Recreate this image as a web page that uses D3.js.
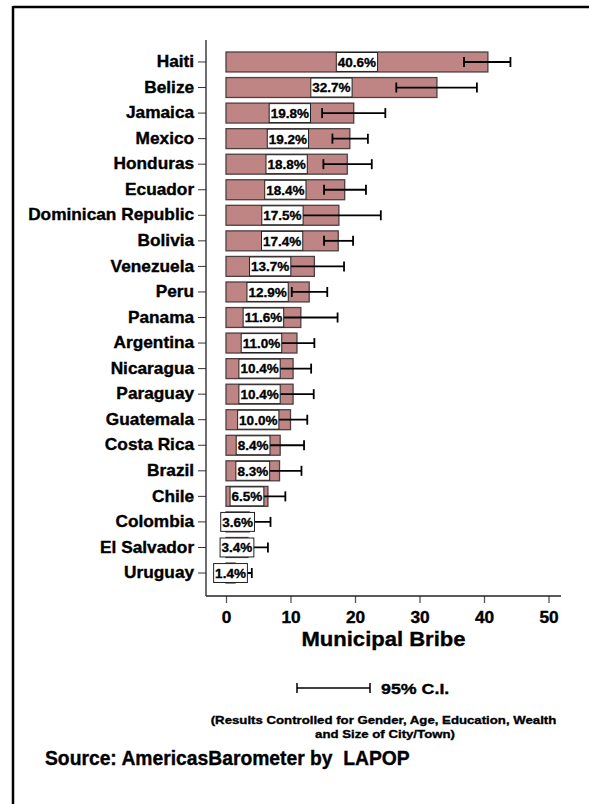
<!DOCTYPE html>
<html>
<head>
<meta charset="utf-8">
<script src="https://cdn.jsdelivr.net/npm/d3@7/dist/d3.min.js"></script>
<style>
  html, body { margin: 0; padding: 0; background: #fff; }
  svg { display: block; font-family: "Liberation Sans", Arial, Helvetica, sans-serif; font-weight: bold; }
  .heavy { stroke: #000; stroke-width: 0.35; }
</style>
</head>
<body>
<svg id="chart" width="589" height="804"></svg>
<script>
// Share of respondents asked for a bribe by municipal officials (%)
const countries = ["Haiti", "Belize", "Jamaica", "Mexico", "Honduras", "Ecuador",
  "Dominican Republic", "Bolivia", "Venezuela", "Peru", "Panama", "Argentina",
  "Nicaragua", "Paraguay", "Guatemala", "Costa Rica", "Brazil", "Chile",
  "Colombia", "El Salvador", "Uruguay"];
const values = [40.6, 32.7, 19.8, 19.2, 18.8, 18.4, 17.5, 17.4, 13.7, 12.9, 11.6,
  11.0, 10.4, 10.4, 10.0, 8.4, 8.3, 6.5, 3.6, 3.4, 1.4];
// 95% confidence interval bounds
const ciLow = [36.9, 26.4, 14.9, 16.5, 15.1, 15.2, 11.0, 15.2, 9.1, 10.2, 5.9,
  8.3, 7.6, 7.2, 7.4, 4.7, 4.9, 3.8, 0.3, 0.3, -1.2];
const ciHigh = [44.1, 38.9, 24.7, 22.0, 22.6, 21.7, 24.0, 19.7, 18.3, 15.7, 17.3,
  13.7, 13.2, 13.6, 12.6, 12.1, 11.7, 9.2, 6.9, 6.5, 4.0];
const xTicks = [0, 10, 20, 30, 40, 50];

const rows = countries.map((c, i) => ({ country: c, value: values[i], lo: ciLow[i], hi: ciHigh[i] }));

const svg = d3.select("#chart");
svg.append("rect").attr("width", 589).attr("height", 804).attr("fill", "#fff");

// page frame (top and left edges)
svg.append("line").attr("x1", 13).attr("x2", 589).attr("y1", 7).attr("y2", 7)
  .attr("stroke", "#000").attr("stroke-width", 2.5);
svg.append("line").attr("x1", 13).attr("x2", 13).attr("y1", 6).attr("y2", 804)
  .attr("stroke", "#000").attr("stroke-width", 2.5);

const x = d3.scaleLinear().domain([0, 50]).range([226, 548.5]);
const y = d3.scaleBand().domain(countries).range([49.2, 585.8])
  .paddingInner(0.22).paddingOuter(0.11);

const axisX0 = 206, axisY0 = 596;

// horizontally widened bold text
function wideText(px, py, size, sx, str, anchor) {
  return svg.append("text")
    .attr("transform", `translate(${px},${py}) scale(${sx},1)`)
    .attr("text-anchor", anchor || "start")
    .attr("font-size", size)
    .attr("class", "heavy")
    .text(str);
}

// bars
svg.append("g").selectAll("rect").data(rows).join("rect")
  .attr("x", x(0))
  .attr("y", d => y(d.country))
  .attr("width", d => x(d.value) - x(0))
  .attr("height", y.bandwidth())
  .attr("fill", "#bf8585")
  .attr("stroke", "#4d3f3f")
  .attr("stroke-width", 1.3);

// confidence intervals
const eb = svg.append("g").attr("stroke", "#000").attr("stroke-width", 1.8);
rows.forEach(d => {
  const cy = y(d.country) + y.bandwidth() / 2;
  eb.append("line").attr("x1", x(d.lo)).attr("x2", x(d.hi)).attr("y1", cy).attr("y2", cy);
  [d.lo, d.hi].forEach(v => eb.append("line")
    .attr("x1", x(v)).attr("x2", x(v)).attr("y1", cy - 5).attr("y2", cy + 5));
});

// value labels in white boxes at bar midpoints
const lab = svg.append("g").selectAll("g").data(rows).join("g")
  .attr("transform", d => `translate(${(x(0) + x(d.value)) / 2},${y(d.country) + y.bandwidth() / 2})`);
lab.append("rect").attr("class", "box");
lab.append("text")
  .attr("text-anchor", "middle").attr("dy", "0.36em")
  .attr("font-size", 13.5).attr("class", "heavy")
  .text(d => d.value.toFixed(1) + "%");
lab.each(function () {
  const g = d3.select(this);
  const w = g.select("text").node().getComputedTextLength() + 3;
  g.select("rect.box")
    .attr("x", -w / 2).attr("y", -y.bandwidth() / 2 + 0.5)
    .attr("width", w).attr("height", y.bandwidth() - 1)
    .attr("fill", "#fff").attr("stroke", "#222").attr("stroke-width", 1);
});

// y axis
const yAxis = svg.append("g").attr("transform", `translate(${axisX0},0)`)
  .call(d3.axisLeft(y).tickSize(8).tickPadding(3));
yAxis.select(".domain").remove();
yAxis.selectAll("line").attr("stroke", "#333").attr("stroke-width", 1);
yAxis.selectAll("text").attr("font-size", 16).attr("font-family", null)
  .attr("fill", "#000").attr("class", "heavy").attr("transform", "scale(1.08,1)");
svg.append("line").attr("x1", axisX0).attr("x2", axisX0).attr("y1", 40).attr("y2", axisY0)
  .attr("stroke", "#222").attr("stroke-width", 1.3);

// x axis
const xAxis = svg.append("g").attr("transform", `translate(0,${axisY0})`)
  .call(d3.axisBottom(x).tickValues(xTicks).tickSize(7).tickPadding(9).tickFormat(d3.format("d")));
xAxis.select(".domain").remove();
xAxis.selectAll("line").attr("stroke", "#555").attr("stroke-width", 1.3);
xAxis.selectAll("text").attr("font-size", 16).attr("font-family", null).attr("fill", "#000")
  .attr("class", "heavy").attr("transform", "scale(1.08,1)");
svg.append("line").attr("x1", axisX0).attr("x2", 561).attr("y1", axisY0).attr("y2", axisY0)
  .attr("stroke", "#222").attr("stroke-width", 1.3);

wideText(383.5, 646, 21, 1.05, "Municipal Bribe", "middle");

// CI legend
const lg = svg.append("g").attr("stroke", "#000").attr("stroke-width", 1.5);
lg.append("line").attr("x1", 297).attr("x2", 370).attr("y1", 688).attr("y2", 688);
[297, 370].forEach(v => lg.append("line").attr("x1", v).attr("x2", v).attr("y1", 683).attr("y2", 693));
wideText(381, 693.5, 15.5, 1.15, "95% C.I.");

// notes
wideText(383.5, 724, 11.5, 1.15, "(Results Controlled for Gender, Age, Education, Wealth", "middle");
wideText(385, 737.5, 11.5, 1.15, "and Size of City/Town)", "middle");
wideText(45, 765, 19.3, 1, "Source: AmericasBarometer by  LAPOP")
  .attr("xml:space", "preserve").style("white-space", "pre");
</script>
</body>
</html>
